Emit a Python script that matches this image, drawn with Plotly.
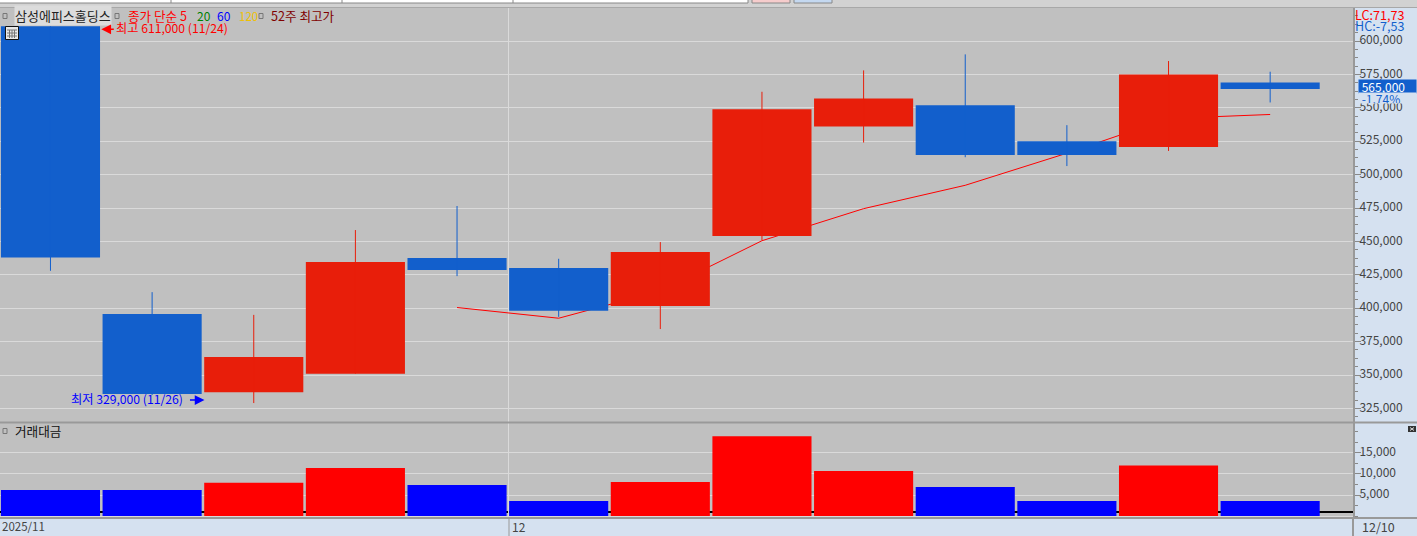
import plotly.graph_objects as go

# ---- data ----
dates = ["11/24","11/25","11/26","11/27","11/28","12/01","12/02","12/03","12/04","12/05","12/08","12/09","12/10"]
opens  = [611000,395700,337000,351000,437600,430000,401600,454000,536000,552000,525000,520700,569000]
closes = [438000,335800,363500,434600,428600,398000,442000,549000,557000,514700,514700,575000,564000]
highs  = [611000,412000,395000,458500,476500,437000,449500,562000,578000,590000,537000,585000,577000]
lows   = [428000,335000,329000,351000,424000,393500,384400,451000,524000,513000,506400,517700,554000]
ma5    = [None,None,None,None,400500,392500,413000,450500,474500,492000,516000,542000,545000]
turnover = [6200,6200,7900,11400,7400,3600,8100,19000,10700,6900,3600,12000,3600]
price_ticks = [325000,350000,375000,400000,425000,450000,475000,500000,525000,550000,575000,600000]
vol_ticks = [5000,10000,15000]

W, H = 1417, 536
FONT = "Noto Sans CJK KR"
BG = "#c0c0c0"; STRIP = "#d5e1f0"; GRID = "#dadada"; SEP = "#999999"; TXT = "#444444"
CBLUE = "#125fcc"; CRED = "#e81e0a"
X_RANGE = [-0.4967, 12.815]
PRICE_RANGE = [314820, 624700]
VOL_RANGE = [-476, 22140]
idx = list(range(len(dates)))
month_break = dates.index("12/01") - 0.495

def fx(px): return px / W
def fy(py): return 1 - py / H

colors = [CRED if c >= o else CBLUE for o, c in zip(opens, closes)]
fig = go.Figure()

# 5-day average sits behind the candle bodies (main price axis)
fig.add_trace(go.Scatter(x=idx, y=ma5, mode="lines", line=dict(color="#ff0000", width=1),
                         xaxis="x", yaxis="y", hoverinfo="skip", showlegend=False))

# wicks, drawn on the overlay axis with the bodies
for col in (CBLUE, CRED):
    wx, wy = [], []
    for i in idx:
        if colors[i] == col:
            wx += [i, i, None]
            wy += [lows[i], highs[i], None]
    fig.add_trace(go.Scatter(x=wx, y=wy, mode="lines", line=dict(color=col, width=1),
                             xaxis="x", yaxis="y3", hoverinfo="skip", showlegend=False))

fig.add_trace(go.Bar(x=idx, y=[abs(c - o) for o, c in zip(opens, closes)],
                     base=[min(o, c) for o, c in zip(opens, closes)],
                     width=0.975, marker=dict(color=colors, line_width=0),
                     xaxis="x", yaxis="y3", showlegend=False))

fig.add_trace(go.Bar(x=idx, y=turnover, width=0.975,
                     marker=dict(color=["#ff0000" if c == CRED else "#0000ff" for c in colors], line_width=0),
                     xaxis="x2", yaxis="y2", showlegend=False))

axis_common = dict(showgrid=True, gridcolor=GRID, gridwidth=1, side="right", ticks="outside",
                   ticklen=6, tickcolor="#888888", tickwidth=1, showline=True, linecolor=SEP,
                   linewidth=2, tickfont=dict(family=FONT, size=12, color=TXT), tickformat=",d",
                   zeroline=False, ticklabelstandoff=-4, ticklabelshift=-1)

layout_shapes = []
def rect(x0, y0, x1, y1, fill, line=None, lw=1):
    layout_shapes.append(dict(type="rect", xref="paper", yref="paper", x0=fx(x0), x1=fx(x1),
                              y0=fy(y1), y1=fy(y0), fillcolor=fill, layer="above",
                              line=dict(color=line or fill, width=lw if line else 0)))
def seg(x0, y0, x1, y1, color, lw=1):
    layout_shapes.append(dict(type="line", xref="paper", yref="paper", x0=fx(x0), x1=fx(x1),
                              y0=fy(y1), y1=fy(y0), layer="above", line=dict(color=color, width=lw)))

# top chrome
rect(0, 0, W, 7, "#d2d2d2")
seg(0, 7.5, W, 7.5, "#a8a8a8", 1)
rect(-2, -2, 748, 3, "#ffffff", "#888888")
for xv in (171, 342, 513):
    seg(xv, 0, xv, 3, "#888888")
rect(752, -2, 790, 3, "#f6cccc", "#888888")
rect(794, -2, 832, 3, "#c4d8f0", "#888888")
# bottom chrome
rect(0, 518, W, H, STRIP)
seg(0, 518, W, 518, SEP, 2)
seg(0, 422.5, W, 422.5, SEP, 2)
seg(509, 518, 509, H, SEP, 1)
seg(1353, 518, 1353, H, SEP, 2)
# small legend squares
for sx, sy in ((5, 16), (117, 16), (261, 16), (5, 431)):
    rect(sx - 2, sy - 2.5, sx + 2, sy + 2.5, "rgba(0,0,0,0)", "#777777")
# table icon
rect(5.5, 26.5, 18.5, 39.5, "#e8e8e8", "#111111")
for gx in (9.5, 12, 14.5):
    seg(gx, 30, gx, 38, "#777777")
for gy in (30, 33, 36):
    seg(7, gy, 17, gy, "#777777")
# pane maximise icon
rect(1408, 426, 1416, 432, "#333333")
seg(1410, 427.5, 1414, 430.5, "#dddddd")
seg(1410, 430.5, 1414, 427.5, "#dddddd")
# reference line under turnover bars
layout_shapes.append(dict(type="line", xref="x2", yref="y2", x0=X_RANGE[0], x1=X_RANGE[1], y0=950, y1=950,
                          layer="below", line=dict(color="#000000", width=2)))

def label(px, py, text, color, size=12, bg=None, anchor="left"):
    return dict(xref="paper", yref="paper", x=fx(px), y=fy(py), text=text, showarrow=False,
                xanchor=anchor, yanchor="middle", align="left", borderpad=0,
                font=dict(family=FONT, size=size, color=color), bgcolor=bg)

anns = [
    label(14, 16, "삼성에피스홀딩스", "#222222", 13, "#dcdcdc"),
    label(127, 16, "종가 단순 5", "#ff0000", 12.6),
    label(196, 16, "20", "#008000"),
    label(216, 16, "60", "#0000ff"),
    label(238, 16, "120", "#f0c000", 11.5),
    label(270, 16, "52주 최고가", "#800000", 12.6),
    label(14, 430.5, "거래대금", "#111111", 12.6),
    label(1354, 14.5, "LC:71,73", "#ff0000", 12.6),
    label(1354, 26, "HC:-7,53", CBLUE, 12.6),
    label(1, 526, "2025/11", TXT, 11.5),
    label(511, 526, "12", TXT),
    label(1361, 526, dates[-1], TXT, 12.5),
    # price flag
    dict(xref="paper", yref="paper", x=fx(1358), y=fy(86.5), text="&nbsp;565,000", showarrow=False,
         xanchor="left", yanchor="middle", font=dict(family=FONT, size=12, color="#ffffff"),
         bgcolor=CBLUE, borderpad=0, width=57, height=13, align="left"),
    dict(xref="paper", yref="paper", x=fx(1358), y=fy(98.5), text="&nbsp;-1.74%", showarrow=False,
         xanchor="left", yanchor="middle", font=dict(family=FONT, size=12, color=CBLUE),
         bgcolor=STRIP, borderpad=0, width=57, height=10, align="left"),
    # high marker
    dict(x=idx[0] + 0.5, y=highs[0], xref="x", yref="y3", text="", showarrow=True, arrowhead=2, arrowsize=1.3,
         arrowwidth=1.5, arrowcolor="#ff0000", ax=14, ay=0, axref="pixel", ayref="pixel", yshift=-3),
    dict(x=idx[0] + 0.63, y=highs[0], xref="x", yref="y3", text="최고 611,000 (11/24)", showarrow=False,
         xanchor="left", xshift=-1, yanchor="middle", yshift=-2, font=dict(family=FONT, size=12.2, color="#ff0000")),
    # low marker
    dict(x=idx[2] - 0.485, y=lows[2], xref="x", yref="y3", text="", showarrow=True, arrowhead=2, arrowsize=1.3,
         arrowwidth=1.5, arrowcolor="#0000ff", ax=-16, ay=0, axref="pixel", ayref="pixel", yshift=3),
    dict(x=idx[2] - 0.68, y=lows[2], xref="x", yref="y3", text="최저 329,000 (11/26)", showarrow=False,
         xanchor="right", yanchor="middle", yshift=4, font=dict(family=FONT, size=12.2, color="#0000ff")),
]

x_common = dict(range=X_RANGE, tickvals=[month_break], showticklabels=False, showgrid=True,
                gridcolor=GRID, gridwidth=1, zeroline=False, ticks="", showline=False)

fig.update_layout(
    width=W, height=H, margin=dict(l=0, r=0, t=0, b=0), autosize=False,
    paper_bgcolor=STRIP, plot_bgcolor=BG, barmode="overlay", showlegend=False,
    hovermode=False,
    xaxis=dict(domain=[0, fx(1353)], anchor="y", **x_common),
    xaxis2=dict(domain=[0, fx(1353)], anchor="y2", matches="x", **x_common),
    yaxis=dict(domain=[fy(422), fy(8)], range=PRICE_RANGE, anchor="x", tickvals=price_ticks,
               minor=dict(dtick=6250, tick0=600000, ticks="outside", ticklen=3, tickcolor="#888888", showgrid=False),
               **axis_common),
    yaxis3=dict(overlaying="y", range=PRICE_RANGE, anchor="x", visible=False),
    yaxis2=dict(domain=[fy(518), fy(423)], range=VOL_RANGE, anchor="x2", tickvals=vol_ticks,
                minor=dict(dtick=2500, tick0=0, ticks="outside", ticklen=3, tickcolor="#888888", showgrid=False),
                **axis_common),
    shapes=layout_shapes, annotations=anns,
)
fig.update_yaxes(selector=dict(anchor="x2"), zeroline=True, zerolinecolor=GRID, zerolinewidth=1)

fig.write_html("out.html", config=dict(displayModeBar=False),
               post_script="document.body.style.margin='0';document.body.style.overflow='hidden';")
